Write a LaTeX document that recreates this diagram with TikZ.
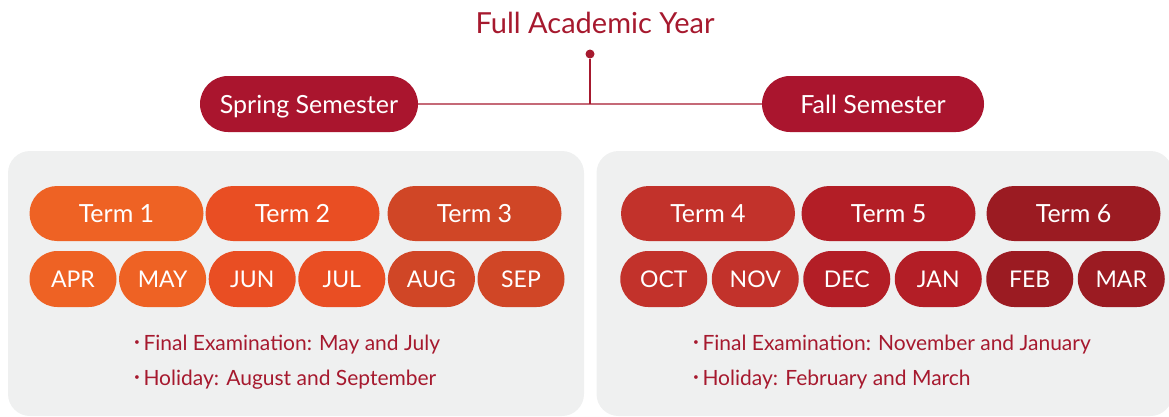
\documentclass[tikz,border=0pt]{standalone}
\usepackage{fontspec}
\setmainfont{Lato}
\usepackage{tikz}
\usetikzlibrary{shapes.misc}
\usetikzlibrary{positioning}

\definecolor{acred}{HTML}{A6192E}
\definecolor{semred}{HTML}{AA152E}
\definecolor{panelgrey}{HTML}{EFF0F0}
\definecolor{toneA}{HTML}{EE6224}
\definecolor{toneB}{HTML}{E94E23}
\definecolor{toneC}{HTML}{D04626}
\definecolor{toneD}{HTML}{C2322B}
\definecolor{toneE}{HTML}{B31E26}
\definecolor{toneF}{HTML}{9B1B22}

\newcommand{\bul}{\raisebox{0.22em}{\fontsize{10}{10}\selectfont\textbullet}\,}
\tikzstyle{panel} = [rectangle, rounded corners=22pt, fill=panelgrey, minimum width=576pt, minimum height=265pt, inner sep=0pt]
\tikzstyle{pill} = [rounded rectangle, text=white, inner sep=0pt, text depth=0pt]
\tikzstyle{sem} = [pill, fill=semred, minimum height=56pt, text height=18pt, font=\fontsize{25}{30}\selectfont]
\tikzstyle{term} = [pill, minimum width=174pt, minimum height=55pt, text height=18pt, font=\fontsize{25}{30}\selectfont]
\tikzstyle{month} = [pill, minimum width=87pt, minimum height=56pt, text height=16.5pt, font=\fontsize{23}{28}\selectfont]
\tikzstyle{note} = [anchor=base west, inner sep=0pt, text=acred, font=\fontsize{21}{25}\selectfont]
\tikzstyle{link} = [draw=acred, line width=1.3pt]

\begin{document}
\begin{tikzpicture}[x=1pt,y=-1pt]
    \useasboundingbox (0,0) rectangle (1169,416);

    % grey boxes
    \node[panel] (springbox) at (296,283.5) {};
    \node[panel] (fallbox) at (884.5,283.5) {};

    % top of the tree
    \node[anchor=base, inner sep=0pt, text=acred, font=\fontsize{29}{35}\selectfont] (year) at (595,33) {Full Academic Year};
    \node[circle, fill=acred, inner sep=0pt, minimum size=9pt] (dot) at (590,54) {};
    \node[sem, minimum width=218pt] (spring) at (309,104) {Spring Semester};
    \node[sem, minimum width=222pt] (fall) at (873,104) {Fall Semester};

    \draw[link] (spring) -- (fall);
    \draw[link] (dot) -- (dot |- spring.east);

    % terms
    \foreach \name/\x/\col/\lab in {t1/116.5/toneA/Term 1, t2/292.5/toneB/Term 2, t3/474.5/toneC/Term 3,
                                    t4/708/toneD/Term 4, t5/888.5/toneE/Term 5, t6/1073.5/toneF/Term 6}
        \node[term, fill=\col] (\name) at (\x,213.5) {\lab};

    % months
    \foreach \name/\x/\col in {APR/73/toneA, MAY/162.6/toneA, JUN/252.2/toneB, JUL/341.8/toneB, AUG/431.4/toneC, SEP/521/toneC,
                               OCT/663.75/toneD, NOV/755.25/toneD, DEC/846.75/toneE, JAN/938.25/toneE, FEB/1029.75/toneF, MAR/1121.25/toneF}
        \node[month, fill=\col] (\name) at (\x,279) {\name};

    % notes
    \node[note] (springexam) at (134,350) {\bul Final Examination: May and July};
    \node[note] (springhol) at (134,385) {\bul Holiday: August and September};
    \node[note] (fallexam) at (693,350) {\bul Final Examination: November and January};
    \node[note] (fallhol) at (693,385) {\bul Holiday: February and March};
\end{tikzpicture}
\end{document}
